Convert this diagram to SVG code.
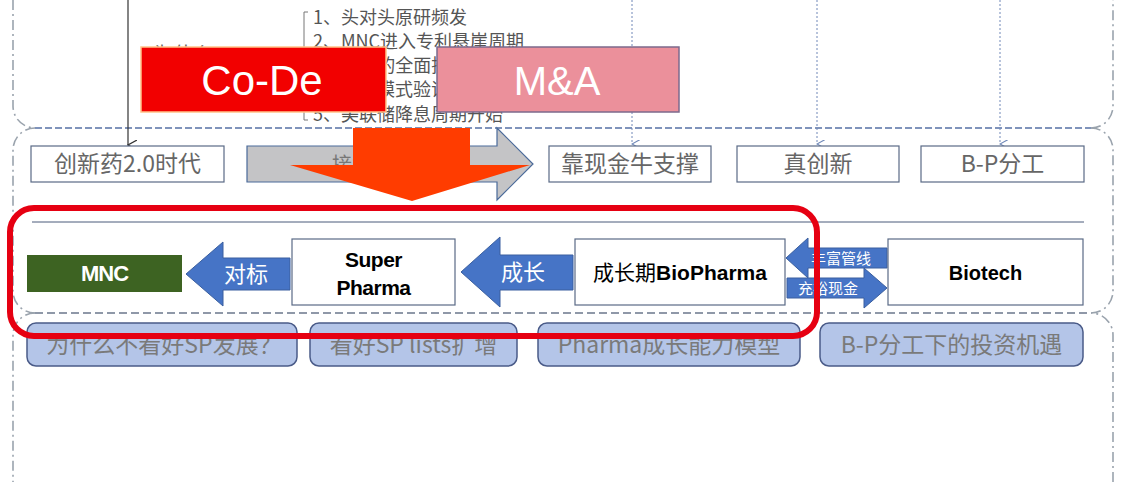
<svg xmlns="http://www.w3.org/2000/svg" width="1134" height="482" viewBox="0 0 1134 482">
<defs>
<style>
.frame{fill:none;stroke:#9aa3ad;stroke-width:1.6;stroke-dasharray:10 4 2 4}
.tilde{fill:none;stroke:#7f93bb;stroke-width:2;stroke-dasharray:7 3}
.sep{fill:none;stroke:#8f98a8;stroke-width:2;stroke-dasharray:8 4}
.dot{fill:none;stroke:#7088b8;stroke-width:1;stroke-dasharray:2 2}
.box{fill:#fff;stroke:#5a6a86;stroke-width:1.2}
.gtxt{font-family:"Noto Sans CJK SC","Liberation Sans",sans-serif;font-size:23px;fill:#666;text-anchor:middle}
.list{font-family:"Noto Sans CJK SC","Liberation Sans",sans-serif;font-size:18px;fill:#555}
.barrow{fill:#4674c6;stroke:#3a5f9f;stroke-width:1}
.wtxt{font-family:"Noto Sans CJK SC",sans-serif;fill:#fff;text-anchor:middle}
.bold{font-family:"Liberation Sans",Arial,sans-serif;font-weight:900;text-anchor:middle}
.btn{fill:#b4c5e8;stroke:#4a5b88;stroke-width:1.5}
.btxt{font-family:"Noto Sans CJK SC","Liberation Sans",sans-serif;font-size:23px;fill:#7a7a7a;text-anchor:middle}
</style>
<marker id="vblk" viewBox="0 0 10 10" refX="5" refY="9" markerWidth="10" markerHeight="10" markerUnits="userSpaceOnUse" orient="auto-start-reverse">
<path d="M0,0 L5,9 L10,0" fill="none" stroke="#333" stroke-width="1.2"/>
</marker>
<marker id="vblue" viewBox="0 0 10 10" refX="5" refY="9" markerWidth="9" markerHeight="9" markerUnits="userSpaceOnUse" orient="auto-start-reverse">
<path d="M0,0 L5,9 L10,0" fill="none" stroke="#6f88b8" stroke-width="1.2"/>
</marker>
</defs>
<rect width="1134" height="482" fill="#fff"/>

<g id="frames">
<path class="frame" d="M13,0 V106 A22,22 0 0 0 35,128"/>
<path class="frame" d="M1091,128 A22,22 0 0 0 1113,106 V0"/>
<path class="frame" d="M35,128 A22,22 0 0 0 13,150 V291 A22,22 0 0 0 35,313"/>
<path class="frame" d="M1091,313 A22,22 0 0 0 1113,291 V150 A22,22 0 0 0 1091,128"/>
<path class="frame" d="M35,313 A22,22 0 0 0 13,335 V482"/>
<path class="frame" d="M1113,482 V335 A22,22 0 0 0 1091,313"/>
<line class="tilde" x1="35" y1="128" x2="1091" y2="128"/>
<line class="sep" x1="35" y1="313" x2="1091" y2="313"/>
<line x1="32" y1="222" x2="1084" y2="222" stroke="#4a5a7a" stroke-width="1"/>
</g>

<g id="top-text">
<text x="153" y="62" font-family="Noto Sans CJK SC,sans-serif" font-size="20" fill="#666">为什么</text>
<path d="M308,12 H304 V120 H308" fill="none" stroke="#777" stroke-width="1"/>
<text class="list" x="313" y="24">1、头对头原研频发</text>
<text class="list" x="313" y="48">2、MNC进入专利悬崖周期</text>
<text class="list" x="313" y="72">3、DRG的全面推行</text>
<text class="list" x="313" y="96">4、出海模式验证</text>
<text class="list" x="313" y="121">5、美联储降息周期开始</text>
</g>

<g id="connectors">
<line x1="128" y1="0" x2="128" y2="145" stroke="#333" stroke-width="1.2" marker-end="url(#vblk)"/>
<line class="dot" x1="632" y1="0" x2="632" y2="144" marker-end="url(#vblue)"/>
<line class="dot" x1="817" y1="0" x2="817" y2="144" marker-end="url(#vblue)"/>
<line class="dot" x1="1000" y1="0" x2="1000" y2="144" marker-end="url(#vblue)"/>
</g>

<g id="codebox">
<rect x="141" y="47" width="245" height="65" fill="#f20000" stroke="#ffc38a" stroke-width="1.5"/>
<text x="262" y="95" font-family="Liberation Sans,Arial,sans-serif" font-size="42" fill="#fff" text-anchor="middle">Co-De</text>
</g>
<g id="mabox">
<rect x="437" y="47" width="242" height="65" fill="#eb909b" stroke="#7c6a8c" stroke-width="1.5"/>
<text x="557" y="95" font-family="Liberation Sans,Arial,sans-serif" font-size="40" fill="#fff" text-anchor="middle">M&amp;A</text>
</g>

<g id="era">
<rect class="box" x="31" y="146" width="193" height="36"/>
<text class="gtxt" x="127.5" y="172">创新药2.0时代</text>
</g>
<g id="gray-arrow">
<path d="M247,146 H497 V128 L533,164 L497,200 V182 H247 Z" fill="#c4c4c6" stroke="#4a6a9a" stroke-width="1.2"/>
<text x="332" y="172" font-family="Noto Sans CJK SC,sans-serif" font-size="20" fill="#777">接棒全球创新</text>
</g>
<g id="cash">
<rect class="box" x="549" y="146" width="162" height="36"/>
<text class="gtxt" x="630" y="172">靠现金牛支撑</text>
</g>
<g id="innov">
<rect class="box" x="737" y="146" width="162" height="36"/>
<text class="gtxt" x="818" y="172">真创新</text>
</g>
<g id="bp">
<rect class="box" x="921" y="146" width="163" height="36"/>
<text class="gtxt" x="1002.5" y="172">B-P分工</text>
</g>

<g id="red-arrow">
<path d="M353,128 H470 V165 H530 L412,201 L290,165 H353 Z" fill="#ff3c00"/>
</g>

<g id="mnc">
<rect x="27" y="255" width="155" height="37" fill="#3d6322"/>
<text class="bold" x="104.5" y="281" font-size="22" fill="#fff" letter-spacing="-1">MNC</text>
</g>
<g id="arrow-duibiao">
<path class="barrow" d="M290,258 H223 V242 L186,274 L223,306 V290 H290 Z"/>
<text class="wtxt" x="246" y="282" font-size="22">对标</text>
</g>
<g id="superpharma">
<rect class="box" x="292" y="239" width="163" height="66"/>
<text class="bold" x="373.5" y="267" font-size="21" fill="#000" letter-spacing="-0.5">Super</text>
<text class="bold" x="373.5" y="295" font-size="21" fill="#000" letter-spacing="-0.5">Pharma</text>
</g>
<g id="arrow-chengzhang">
<path class="barrow" d="M573,255 H500 V237 L461,272 L500,307 V290 H573 Z"/>
<text class="wtxt" x="523" y="280" font-size="22">成长</text>
</g>
<g id="biopharma">
<rect class="box" x="575" y="239" width="210" height="66"/>
<text x="680" y="280" text-anchor="middle" font-size="21" fill="#000"><tspan font-family="Noto Sans CJK SC,sans-serif">成长期</tspan><tspan font-family="Liberation Sans,Arial,sans-serif" font-weight="900">BioPharma</tspan></text>
</g>
<g id="arrow-pipeline">
<path class="barrow" d="M887,248 H808 V238 L786,258 L808,278 V268 H887 Z"/>
<text class="wtxt" x="841" y="264" font-size="15">丰富管线</text>
</g>
<g id="arrow-cash">
<path class="barrow" d="M787,278 H864 V268 L887,288 L864,308 V298 H787 Z"/>
<text class="wtxt" x="828" y="294" font-size="15">充裕现金</text>
</g>
<g id="biotech">
<rect class="box" x="888" y="239" width="195" height="66"/>
<text class="bold" x="985.5" y="280" font-size="20" fill="#000">Biotech</text>
</g>

<g id="btn1">
<rect class="btn" x="27" y="323" width="270" height="43" rx="9"/>
<text class="btxt" x="164" y="353">为什么不看好SP发展？</text>
</g>
<g id="btn2">
<rect class="btn" x="310" y="323" width="207" height="43" rx="9"/>
<text class="btxt" x="413.5" y="353">看好SP lists扩增</text>
</g>
<g id="btn3">
<rect class="btn" x="538" y="323" width="262" height="43" rx="9"/>
<text class="btxt" x="669" y="353">Pharma成长能力模型</text>
</g>
<g id="btn4">
<rect class="btn" x="820" y="323" width="263" height="43" rx="9"/>
<text class="btxt" x="951.5" y="353">B-P分工下的投资机遇</text>
</g>

<g id="highlight">
<rect x="10" y="208" width="807" height="128" rx="24" fill="none" stroke="#e60012" stroke-width="6"/>
</g>
</svg>
